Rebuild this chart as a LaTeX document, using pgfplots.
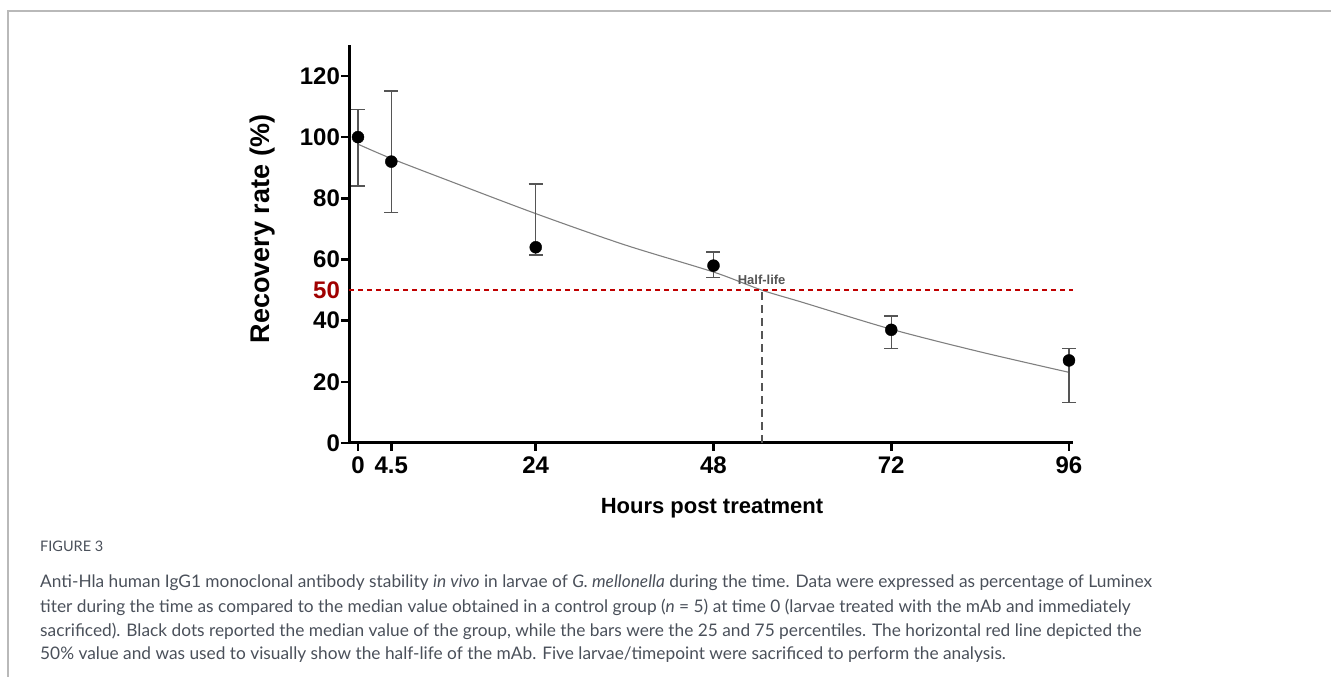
\documentclass[border=0pt]{standalone}
\usepackage{pgfplots}
\pgfplotsset{compat=1.18}
\usepackage{fontspec}
\setmainfont{Liberation Sans}
\newfontfamily\capfont{Lato}
\definecolor{halfred}{HTML}{C00000}
\definecolor{labred}{HTML}{A00000}
\definecolor{bargray}{HTML}{555555}
\definecolor{fitgray}{HTML}{808080}
\definecolor{captext}{HTML}{4A505A}

\begin{document}
\begin{tikzpicture}[x=1pt,y=1pt]
\useasboundingbox (0,0) rectangle (1331,677);
% frame
\draw[gray!55, line width=1.3pt] (8,0) -- (8,666) -- (1331,666);

\begin{axis}[
    at={(349.1pt,234pt)}, anchor=south west,
    scale only axis, width=723.6pt, height=397.6pt,
    xmin=-1.2, xmax=96.5,
    ymin=0, ymax=130,
    axis x line*=bottom, axis y line*=left,
    axis line style={line width=3pt, black},
    xtick={0,4.5,24,48,72,96},
    ytick={0,20,40,60,80,100,120},
    extra y ticks={50},
    extra y tick style={major tick length=0pt,
        tick label style={text=labred, xshift=-8pt}},
    tick align=outside,
    major tick length=8pt,
    major tick style={line width=2.5pt, black},
    /pgf/number format/assume math mode=true,
    ticklabel style={font=\fontsize{24}{24}\selectfont\bfseries},
    yticklabel style={inner sep=0pt, xshift=-1pt},
    xticklabel style={inner sep=3pt, yshift=-3pt},
    clip=false,
]
% fitted decay curve
\addplot[fitgray, line width=1.1pt, smooth] coordinates {
    (0,97.7) (4.5,93.0) (12,86.0) (24,75.0) (36,64.8)
    (48,55.9) (54.5,50.0) (60,46.0) (72,37.2) (84,29.8) (96,23.1)
};
% 50% line
\addplot[halfred, line width=1.5pt, dash pattern=on 5pt off 4pt] coordinates {
    (-1.2,50) (96.5,50)
};
% half-life drop line
\addplot[bargray, line width=2pt, dash pattern=on 8pt off 5pt] coordinates {
    (54.5,0) (54.5,50)
};
% medians with 25-75 percentiles
\addplot[only marks, mark=*, mark size=6pt, black,
    error bars/.cd, y dir=both, y explicit,
    error bar style={bargray, line width=1.3pt},
    error mark options={bargray, line width=1.3pt, mark size=7pt, rotate=90}]
coordinates {
    (0,100)   += (0,9.1)  -= (0,16.0)
    (4.5,92)  += (0,23.1) -= (0,16.6)
    (24,64)   += (0,20.7) -= (0,2.5)
    (48,58)   += (0,4.4)  -= (0,4.0)
    (72,37)   += (0,4.5)  -= (0,6.0)
    (96,27)   += (0,3.8)  -= (0,13.7)
};
\node[font=\fontsize{13}{13}\selectfont\bfseries, text=bargray] at (axis cs:54.5,53.3) {Half-life};
\end{axis}

% axis titles
\node[rotate=90, font=\fontsize{27}{27}\selectfont\bfseries] at (263,448) {Recovery rate (\%)};
\node[font=\fontsize{22}{22}\selectfont\bfseries] at (712,169) {Hours post treatment};

% caption
\node[anchor=west, inner sep=0pt, font=\capfont\fontsize{14.5}{14.5}\selectfont, text=captext] at (40,131) {FIGURE 3};
\begin{scope}[every node/.style={anchor=west, inner sep=0pt, font=\capfont\fontsize{17.3}{17.3}\selectfont, text=captext}]
\node at (40,94) {Anti-Hla human IgG1 monoclonal antibody stability \textit{in vivo} in larvae of \textit{G. mellonella} during the time. Data were expressed as percentage of Luminex};
\node at (40,70) {titer during the time as compared to the median value obtained in a control group (\textit{n} = 5) at time 0 (larvae treated with the mAb and immediately};
\node at (40,46) {sacrificed). Black dots reported the median value of the group, while the bars were the 25 and 75 percentiles. The horizontal red line depicted the};
\node at (40,22) {50\% value and was used to visually show the half-life of the mAb. Five larvae/timepoint were sacrificed to perform the analysis.};
\end{scope}
\end{tikzpicture}
\end{document}
